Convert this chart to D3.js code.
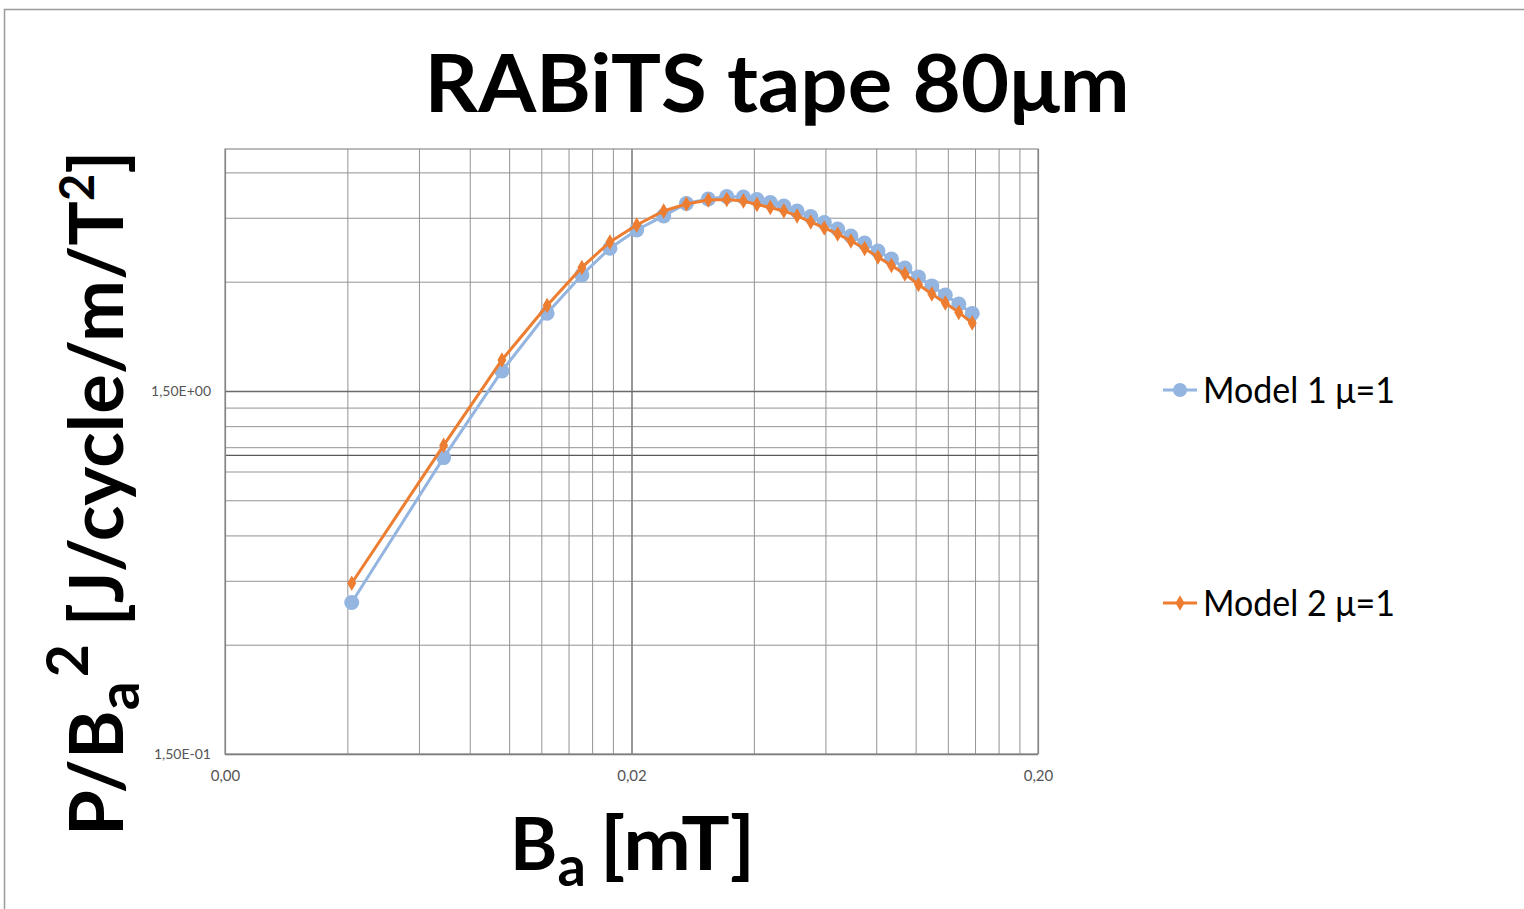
<!DOCTYPE html>
<html><head><meta charset="utf-8">
<script src="https://cdn.jsdelivr.net/npm/d3@7"></script>
<style>body{margin:0;background:#fff}svg{display:block}</style>
</head><body>
<script>
const chartTitle = "RABiTS tape 80μm";
const seriesNames = ["Model 1 μ=1", "Model 2 μ=1"];
const bField = [0.0041,0.0069,0.0096,0.0124,0.0151,0.0177,0.0206,0.0240,0.0273,0.0309,0.0343,0.0377,0.0407,0.0439,0.0474,0.0511,0.0552,0.0596,0.0643,0.0693,0.0749,0.0808,0.0872,0.0941,0.1016,0.1096,0.1183,0.1277,0.1378];
const model1 = [0.392,0.983,1.703,2.456,3.131,3.708,4.166,4.553,4.927,5.070,5.151,5.135,5.054,4.959,4.850,4.698,4.537,4.368,4.191,4.009,3.834,3.645,3.465,3.273,3.092,2.921,2.758,2.604,2.453];
const model2 = [0.443,1.062,1.826,2.580,3.284,3.860,4.299,4.698,4.911,5.038,5.054,5.007,4.896,4.804,4.698,4.553,4.382,4.218,4.061,3.884,3.704,3.509,3.326,3.151,2.948,2.775,2.622,2.469,2.309];
const xTickValues = [0.002, 0.02, 0.2];
const xTickLabels = ["0,00", "0,02", "0,20"];
const yTickValues = [0.15, 1.5];
const yTickLabels = ["1,50E-01", "1,50E+00"];
const xMinorGrid = [0.004,0.006,0.008,0.010,0.012,0.014,0.016,0.018,0.02,0.04,0.06,0.08,0.10,0.12,0.14,0.16,0.18];
const yMinorGrid = [0.3,0.45,0.6,0.75,0.9,1.05,1.2,1.35,3.0,4.5,6.0];
const yRefLine = [1.0];
const yDomain = [0.15, 6.96];
const xDomain = [0.002, 0.2];

const W = 1524, H = 909;
const plot = {left: 225, right: 1038, top: 149, bottom: 754};
const svg = d3.select("body").append("svg").attr("width", W).attr("height", H);
svg.append("rect").attr("width", W).attr("height", H).attr("fill", "#fff");
svg.append("path").attr("d", `M4.5,${H} V9.5 H${W}`).attr("fill","none").attr("stroke","#9a9a9a").attr("stroke-width",1.5);

const x = d3.scaleLog().domain(xDomain).range([plot.left, plot.right]);
const y = d3.scaleLog().domain(yDomain).range([plot.bottom, plot.top]);
const pw = plot.right - plot.left, ph = plot.bottom - plot.top;
const font = "Lato, 'Open Sans', sans-serif";

const gx = svg.append("g").attr("transform", `translate(0,${plot.bottom})`)
  .call(d3.axisBottom(x).tickValues(xMinorGrid).tickSize(-ph).tickFormat(""));
gx.select(".domain").remove();
gx.selectAll("line").attr("stroke", "#939393").attr("stroke-width", 1);
const gy = svg.append("g").attr("transform", `translate(${plot.left},0)`)
  .call(d3.axisLeft(y).tickValues(yMinorGrid).tickSize(-pw).tickFormat(""));
gy.select(".domain").remove();
gy.selectAll("line").attr("stroke", "#939393").attr("stroke-width", 1);
const gr = svg.append("g").attr("transform", `translate(${plot.left},0)`)
  .call(d3.axisLeft(y).tickValues(yRefLine).tickSize(-pw).tickFormat(""));
gr.select(".domain").remove();
gr.selectAll("line").attr("stroke", "#5a5a5a").attr("stroke-width", 1.3);

const ax = svg.append("g").attr("transform", `translate(0,${plot.bottom})`)
  .call(d3.axisBottom(x).tickValues(xTickValues).tickSize(-ph).tickPadding(16).tickFormat((d,i)=>xTickLabels[i]));
ax.select(".domain").remove();
ax.selectAll("line").attr("stroke", "#7a7a7a").attr("stroke-width", 1.2);
ax.selectAll("text").attr("font-family", font).attr("font-size",15).attr("fill","#555");
const ay = svg.append("g").attr("transform", `translate(${plot.left},0)`)
  .call(d3.axisLeft(y).tickValues(yTickValues).tickSize(-pw).tickPadding(14).tickFormat((d,i)=>yTickLabels[i]));
ay.select(".domain").remove();
ay.selectAll("line").attr("stroke", "#6a6a6a").attr("stroke-width", 1.6);
ay.selectAll("text").attr("font-family", font).attr("font-size",14).attr("fill","#555");

svg.append("rect").attr("x", plot.left).attr("y", plot.top).attr("width", pw).attr("height", ph)
  .attr("fill","none").attr("stroke","#8c8c8c").attr("stroke-width",1.2);

const blue = "#93B5E0", orange = "#ED7D31";
const d1 = bField.map((b,i)=>[b, model1[i]]);
const d2 = bField.map((b,i)=>[b, model2[i]]);
const line = d3.line().x(d=>x(d[0])).y(d=>y(d[1]));
svg.append("path").datum(d1).attr("d", line).attr("fill","none").attr("stroke", blue).attr("stroke-width", 3);
svg.append("g").selectAll("circle").data(d1).join("circle")
  .attr("cx", d=>x(d[0])).attr("cy", d=>y(d[1])).attr("r", 7.5).attr("fill", blue);
svg.append("path").datum(d2).attr("d", line).attr("fill","none").attr("stroke", orange).attr("stroke-width", 3);
const diamond = d3.symbol().type(d3.symbolDiamond).size(70);
svg.append("g").selectAll("path").data(d2).join("path")
  .attr("transform", d=>`translate(${x(d[0])},${y(d[1])})`).attr("d", diamond).attr("fill", orange);

svg.append("text").attr("x", 777).attr("y", 112).attr("text-anchor","middle")
  .attr("font-family", font).attr("font-weight","bold").attr("font-size", 80).attr("fill","#000")
  .attr("textLength", 705).attr("lengthAdjust","spacingAndGlyphs").text(chartTitle);

const xt = svg.append("text").attr("x", 510).attr("y", 870)
  .attr("font-family", font).attr("font-weight","bold").attr("font-size", 72).attr("fill","#000");
xt.append("tspan").text("B");
xt.append("tspan").attr("dy", 16).attr("font-size", 56).text("a");
svg.append("text").attr("x", 600).attr("y", 870)
  .attr("font-family", font).attr("font-weight","bold").attr("font-size", 74).attr("fill","#000")
  .attr("textLength", 155).attr("lengthAdjust","spacingAndGlyphs").text("[mT]");

const yt = svg.append("text").attr("transform", "translate(123,836) rotate(-90)")
  .attr("font-family", font).attr("font-weight","bold").attr("font-size", 74).attr("fill","#000");
yt.append("tspan").text("P/B");
yt.append("tspan").attr("dy", 16).attr("font-size", 57).text("a");
yt.append("tspan").attr("dy", -51).attr("dx", 4).attr("font-size", 57).text("2");
yt.append("tspan").attr("dy", 35).text(" [J/cycle/m/T");
yt.append("tspan").attr("dy", -29).attr("font-size", 47).text("2");
yt.append("tspan").attr("dy", 29).text("]");

const legY = [390, 603];
const leg = svg.append("g");
seriesNames.forEach((n,i)=>{
  const c = i===0 ? blue : orange;
  leg.append("line").attr("x1",1163).attr("x2",1197).attr("y1",legY[i]).attr("y2",legY[i]).attr("stroke", c).attr("stroke-width",3);
  if (i===0) leg.append("circle").attr("cx",1180).attr("cy",legY[i]).attr("r",7).attr("fill",c);
  else leg.append("path").attr("transform",`translate(1180,${legY[i]})`).attr("d", diamond).attr("fill", c);
  leg.append("text").attr("x",1203).attr("y",legY[i]+13).attr("font-family", font).attr("font-size",36).attr("fill","#000")
    .attr("textLength",192).attr("lengthAdjust","spacingAndGlyphs").text(n);
});
</script>
</body></html>
